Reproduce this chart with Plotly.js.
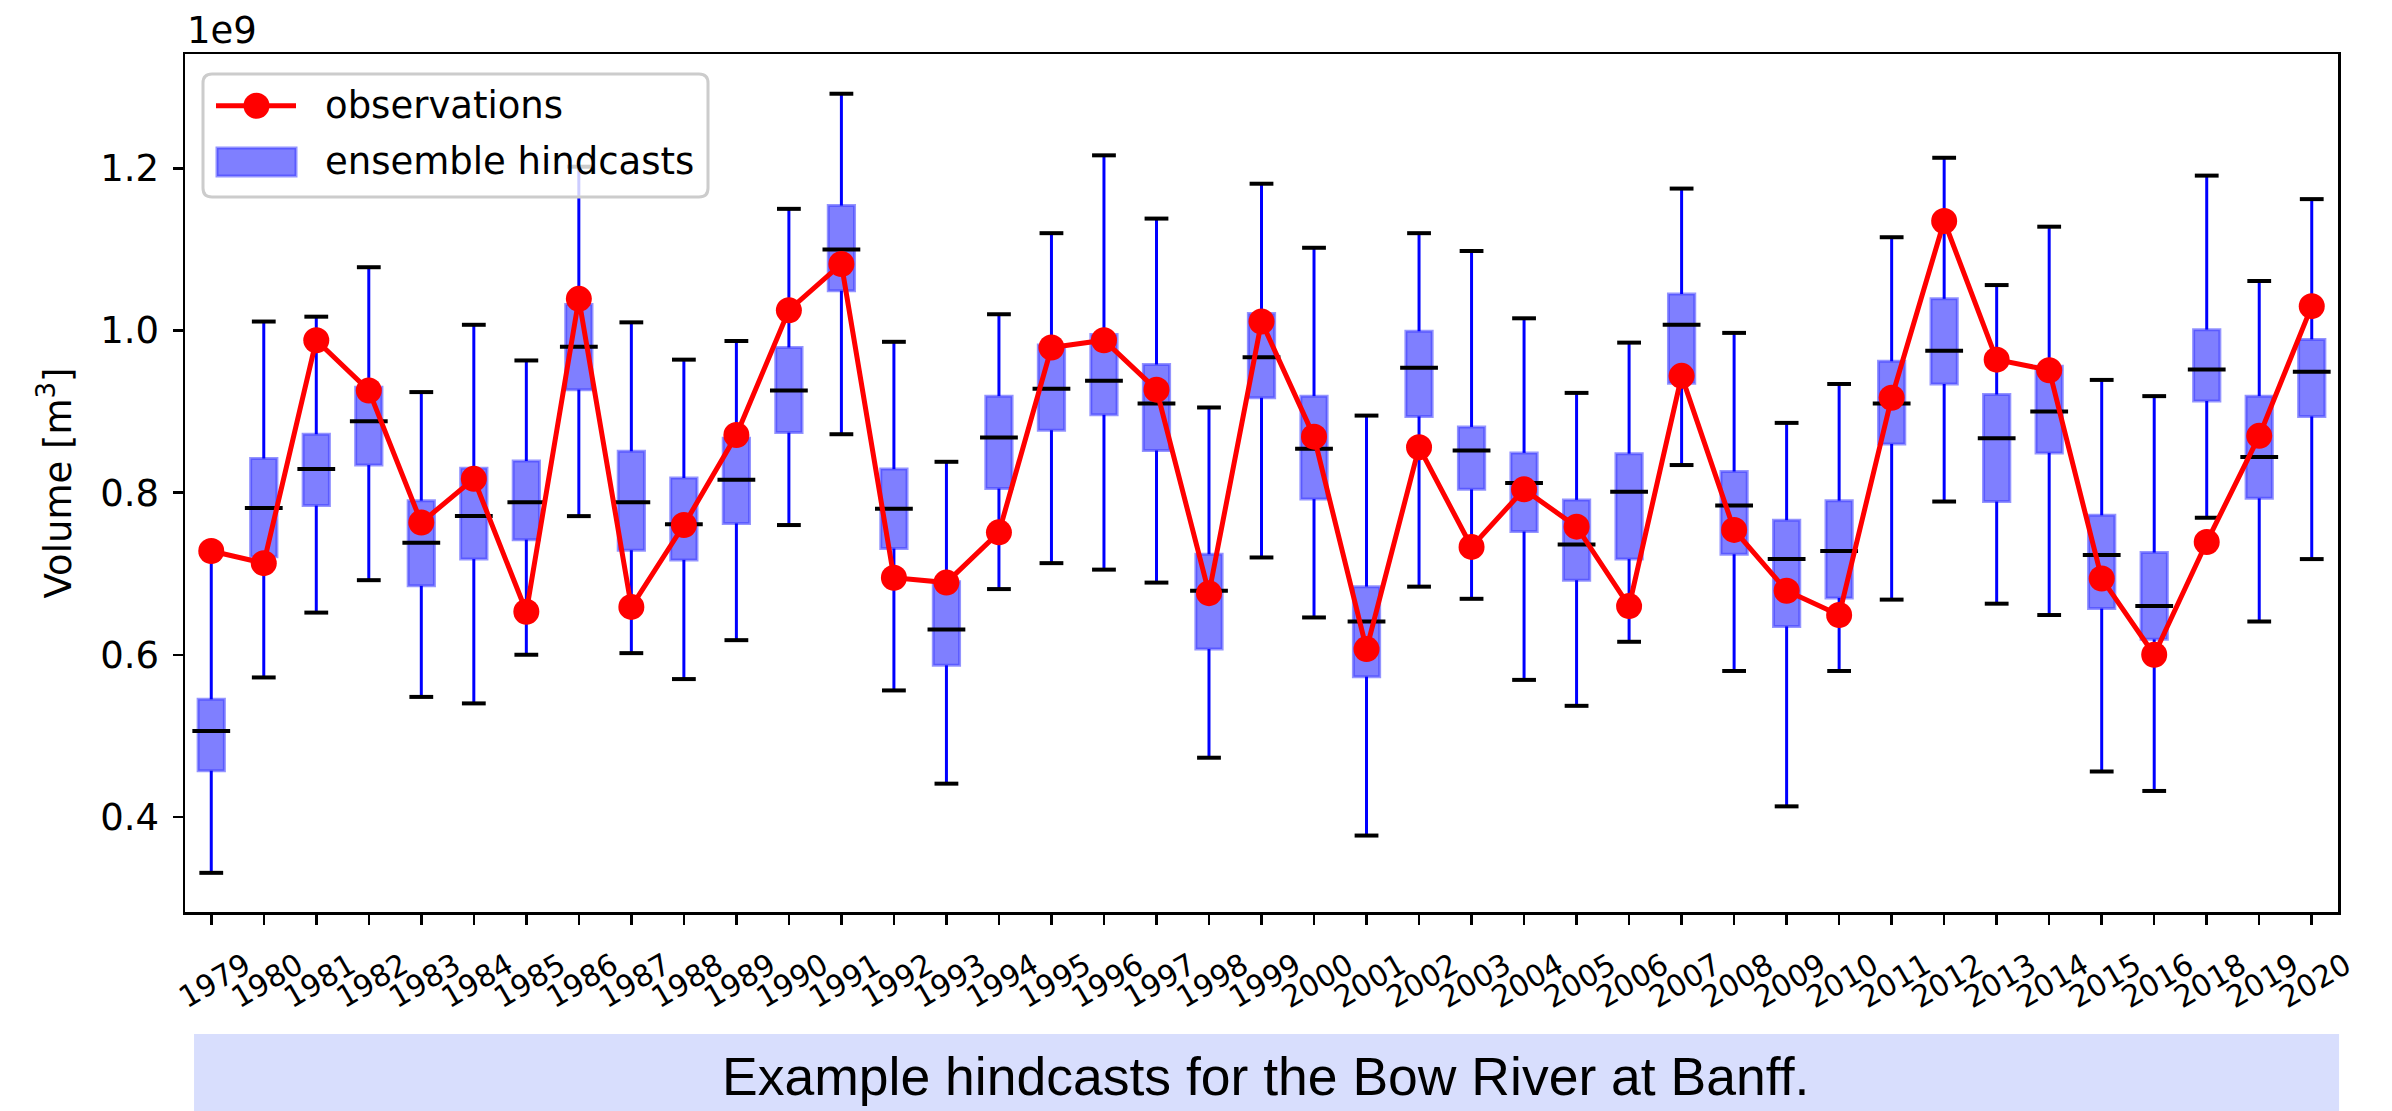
<!DOCTYPE html>
<html>
<head>
<meta charset="utf-8">
<script src="https://cdn.plot.ly/plotly-3.0.1.min.js"></script>
<style>
html,body{margin:0;padding:0;background:#fff;}
#chart{width:2392px;height:1111px;}
</style>
</head>
<body>
<div id="chart"></div>
<script>
// Categories (years; 2017 absent)
const years = ['1979','1980','1981','1982','1983','1984','1985','1986','1987','1988','1989','1990','1991','1992','1993','1994','1995','1996','1997','1998','1999','2000','2001','2002','2003','2004','2005','2006','2007','2008','2009','2010','2011','2012','2013','2014','2015','2016','2018','2019','2020'];

// Observed volume (x 1e9 m^3)
const observations = [0.728,0.713,0.988,0.926,0.763,0.817,0.653,1.039,0.659,0.760,0.871,1.025,1.082,0.695,0.689,0.751,0.979,0.988,0.927,0.676,1.011,0.869,0.607,0.856,0.733,0.804,0.758,0.660,0.944,0.754,0.679,0.649,0.917,1.135,0.964,0.951,0.694,0.600,0.739,0.870,1.030];

// Ensemble hindcast box statistics (x 1e9 m^3)
const whiskerLow = [0.331,0.572,0.652,0.692,0.548,0.540,0.600,0.771,0.602,0.570,0.618,0.760,0.872,0.556,0.441,0.681,0.713,0.705,0.689,0.473,0.720,0.646,0.377,0.684,0.669,0.569,0.537,0.616,0.834,0.580,0.413,0.580,0.668,0.789,0.663,0.649,0.456,0.432,0.769,0.641,0.718];
const q1 = [0.457,0.721,0.784,0.834,0.685,0.718,0.742,0.927,0.729,0.717,0.762,0.874,1.049,0.731,0.587,0.805,0.877,0.896,0.852,0.607,0.917,0.792,0.573,0.894,0.804,0.752,0.692,0.718,0.935,0.724,0.635,0.670,0.860,0.934,0.789,0.849,0.657,0.619,0.913,0.793,0.894];
const median = [0.506,0.781,0.829,0.888,0.738,0.771,0.788,0.980,0.788,0.761,0.816,0.926,1.100,0.780,0.631,0.868,0.928,0.938,0.910,0.679,0.967,0.854,0.641,0.954,0.852,0.812,0.736,0.801,1.007,0.784,0.718,0.728,0.910,0.975,0.867,0.900,0.723,0.660,0.952,0.844,0.949];
const q3 = [0.545,0.842,0.872,0.930,0.790,0.830,0.839,1.032,0.851,0.818,0.867,0.979,1.154,0.829,0.690,0.919,0.982,0.995,0.958,0.724,1.021,0.919,0.684,0.999,0.881,0.849,0.791,0.848,1.045,0.826,0.766,0.790,0.962,1.039,0.921,0.956,0.772,0.726,1.001,0.919,0.989];
const whiskerHigh = [0.725,1.011,1.017,1.078,0.924,1.007,0.963,1.202,1.010,0.964,0.987,1.150,1.292,0.986,0.838,1.020,1.120,1.216,1.138,0.905,1.181,1.102,0.895,1.120,1.098,1.015,0.923,0.985,1.175,0.997,0.886,0.934,1.115,1.213,1.056,1.128,0.939,0.919,1.191,1.061,1.162];

const yTicks = [0.4,0.6,0.8,1.0,1.2];
const legendLabels = ['observations','ensemble hindcasts'];

const FONT = 'DejaVu Sans, sans-serif';
const RED = '#ff0000';
const BOXFILL = 'rgba(0,0,255,0.5)';
const BOXEDGE = 'rgba(60,60,255,0.55)';

// whisker segments built from the data arrays
const wx = [], wy = [];
years.forEach((yr,i)=>{
  wx.push(yr,yr,null,yr,yr,null);
  wy.push(q3[i],whiskerHigh[i],null,whiskerLow[i],q1[i],null);
});

const traces = [
  {
    type:'box', name:legendLabels[1], x:years,
    q1:q1, median:median, q3:q3, lowerfence:q1, upperfence:q3,
    width:0.5, whiskerwidth:0, boxpoints:false,
    fillcolor:BOXFILL, line:{color:BOXEDGE, width:3}, hoverinfo:'skip'
  },
  {
    type:'scatter', mode:'lines', x:wx, y:wy, name:'whiskers',
    line:{color:'#0000ff', width:3}, hoverinfo:'skip', connectgaps:false
  },
  {
    type:'scatter', mode:'markers', x:years.concat(years), y:whiskerHigh.concat(whiskerLow),
    name:'caps', hoverinfo:'skip',
    marker:{symbol:'line-ew', size:17, line:{color:'#000', width:4}}
  },
  {
    type:'scatter', mode:'markers', x:years, y:median, name:'medians', hoverinfo:'skip',
    marker:{symbol:'line-ew', size:27, line:{color:'#000', width:4}}
  },
  {
    type:'scatter', mode:'lines+markers', name:legendLabels[0], x:years, y:observations,
    line:{color:RED, width:5}, marker:{color:RED, size:26}
  }
];

// legend frame (matplotlib style, rounded) in paper coordinates
const PW = 2153, PH = 858;            // plot area size in px
const px = v => v / PW, py = v => v / PH;
const lx0 = px(18), lx1 = px(523), ly0 = 1 - py(715 - 54 + 0) , ly1 = 1 - py(20);
const rX = px(9), rY = py(9);
const frameY0 = py(912-197), frameY1 = py(912-74);
const framePath = `M ${lx0+rX},${frameY1} L ${lx1-rX},${frameY1} Q ${lx1},${frameY1} ${lx1},${frameY1-rY} ` +
  `L ${lx1},${frameY0+rY} Q ${lx1},${frameY0} ${lx1-rX},${frameY0} L ${lx0+rX},${frameY0} ` +
  `Q ${lx0},${frameY0} ${lx0},${frameY0+rY} L ${lx0},${frameY1-rY} Q ${lx0},${frameY1} ${lx0+rX},${frameY1} Z`;
const row1 = py(912-105.7), row2 = py(912-162);

const layout = {
  width:2392, height:1111,
  margin:{l:185, r:54, t:54, b:199},
  paper_bgcolor:'#ffffff', plot_bgcolor:'#ffffff',
  font:{family:FONT, size:37, color:'#000'},
  showlegend:false,
  xaxis:{
    type:'category', categoryorder:'array', categoryarray:years,
    range:[-0.5, years.length-0.5],
    showline:true, linecolor:'#000', linewidth:2.5, mirror:true,
    ticks:'outside', ticklen:10, tickwidth:2.5, tickcolor:'#000',
    showgrid:false, zeroline:false,
    tickangle:-30, tickfont:{family:FONT, size:30, color:'#000'},
    ticklabelshift:34, ticklabelstandoff:12
  },
  yaxis:{
    range:[0.2827, 1.341],
    tickvals:yTicks, ticktext:yTicks.map(v=>v.toFixed(1)),
    showline:true, linecolor:'#000', linewidth:2.5, mirror:true,
    ticks:'outside', ticklen:10, tickwidth:2.5, tickcolor:'#000',
    showgrid:false, zeroline:false,
    tickfont:{family:FONT, size:37, color:'#000'}, ticklabelstandoff:6,
    title:{text:'Volume [m<sup>3</sup>]', font:{family:FONT, size:37, color:'#000'}, standoff:18}
  },
  shapes:[
    {type:'rect', xref:'paper', yref:'paper', x0:0.0042, x1:1.0005, y0:-0.235, y1:-0.1422,
     fillcolor:'#d8defd', line:{width:0}, layer:'below'},
    // legend frame
    {type:'path', xref:'paper', yref:'paper', path:framePath,
     fillcolor:'rgba(255,255,255,0.8)', line:{color:'#cccccc', width:3}, layer:'above'},
    // legend key: observations
    {type:'line', xref:'paper', yref:'paper', x0:px(31), x1:px(111), y0:row1, y1:row1,
     line:{color:RED, width:5}, layer:'above'},
    {type:'circle', xref:'paper', yref:'paper', xsizemode:'pixel', ysizemode:'pixel',
     xanchor:px(71.5), yanchor:row1, x0:-13, x1:13, y0:-13, y1:13,
     fillcolor:RED, line:{width:0}, layer:'above'},
    // legend key: ensemble hindcasts
    {type:'rect', xref:'paper', yref:'paper', x0:px(32), x1:px(111), y0:py(912-176), y1:py(912-148),
     fillcolor:BOXFILL, line:{color:BOXEDGE, width:3}, layer:'above'}
  ],
  annotations:[
    {text:'1e9', xref:'paper', yref:'paper', x:0, y:1, xanchor:'left', yanchor:'bottom',
     showarrow:false, font:{family:FONT, size:37, color:'#000'}, yshift:0},
    {text:legendLabels[0], xref:'paper', yref:'paper', x:px(138), y:row1, xanchor:'left', yanchor:'middle',
     showarrow:false, font:{family:FONT, size:37, color:'#000'}},
    {text:legendLabels[1], xref:'paper', yref:'paper', x:px(138), y:row2, xanchor:'left', yanchor:'middle',
     showarrow:false, font:{family:FONT, size:37, color:'#000'}},
    {text:'Example hindcasts for the Bow River at Banff.', xref:'paper', yref:'paper',
     x:0.502, y:-0.1923, xanchor:'center', yanchor:'middle', showarrow:false,
     font:{family:'Liberation Sans, Arial, sans-serif', size:53.5, color:'#000'}}
  ]
};

Plotly.newPlot('chart', traces, layout, {displayModeBar:false, staticPlot:true});
</script>
</body>
</html>
